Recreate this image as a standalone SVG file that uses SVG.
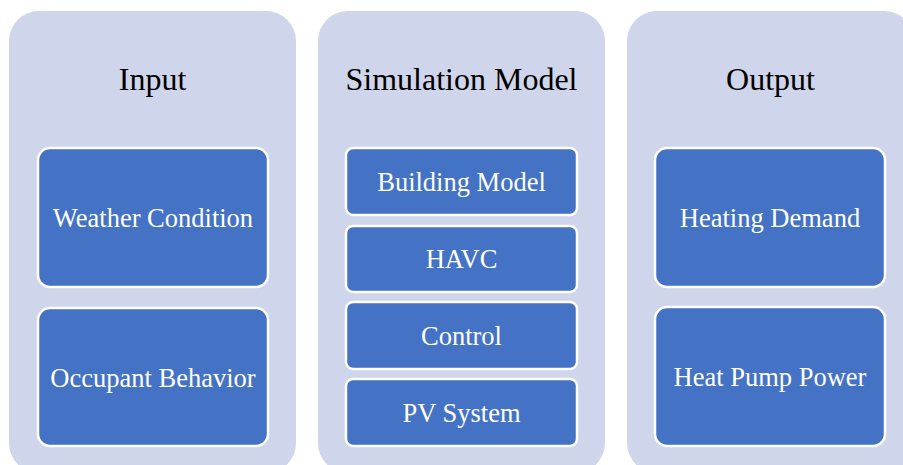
<svg xmlns="http://www.w3.org/2000/svg" width="903" height="465" viewBox="0 0 903 465">
<style>
.panel{fill:#CFD5EA}
.box{fill:#4472C4;stroke:#FFFFFF;stroke-width:2.5}
.title{font-family:"Liberation Serif","Times New Roman",serif;font-size:32px;fill:#000;text-anchor:middle}
.lbl{font-family:"Liberation Serif","Times New Roman",serif;font-size:26.5px;fill:#FFF;text-anchor:middle}
</style>
<rect width="903" height="465" fill="#FFFFFF"/>
<g id="panel-input">
<rect class="panel" x="9" y="11" width="287" height="462" rx="30"/>
<text class="title" x="152.5" y="90">Input</text>
</g>
<g id="panel-sim">
<rect class="panel" x="318" y="11" width="287" height="462" rx="30"/>
<text class="title" x="461.5" y="90">Simulation Model</text>
</g>
<g id="panel-output">
<rect class="panel" x="627" y="11" width="287" height="462" rx="30"/>
<text class="title" x="770.5" y="90">Output</text>
</g>
<g id="weather">
<rect class="box" x="38" y="148" width="230" height="139" rx="12"/>
<text class="lbl" x="153" y="227">Weather Condition</text>
</g>
<g id="occupant">
<rect class="box" x="38" y="308" width="230" height="138" rx="12"/>
<text class="lbl" x="153" y="387">Occupant Behavior</text>
</g>
<g id="building">
<rect class="box" x="346" y="148" width="231" height="67" rx="7"/>
<text class="lbl" x="461.5" y="191">Building Model</text>
</g>
<g id="havc">
<rect class="box" x="346" y="226" width="231" height="66" rx="7"/>
<text class="lbl" x="461.5" y="268">HAVC</text>
</g>
<g id="control">
<rect class="box" x="346" y="302" width="231" height="67" rx="7"/>
<text class="lbl" x="461.5" y="345">Control</text>
</g>
<g id="pv">
<rect class="box" x="346" y="379" width="231" height="67" rx="7"/>
<text class="lbl" x="461.5" y="422">PV System</text>
</g>
<g id="heating">
<rect class="box" x="655" y="148" width="230" height="139" rx="12"/>
<text class="lbl" x="770" y="227">Heating Demand</text>
</g>
<g id="heatpump">
<rect class="box" x="655" y="307" width="230" height="139" rx="12"/>
<text class="lbl" x="770" y="386">Heat Pump Power</text>
</g>
<g id="connectors"></g>
</svg>
